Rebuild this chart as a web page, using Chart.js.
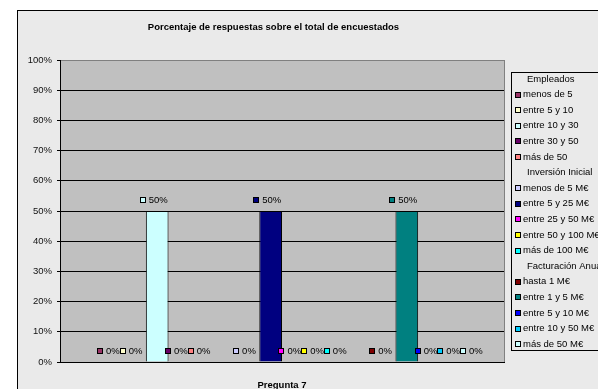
<!DOCTYPE html>
<html lang="es">
<head>
<meta charset="UTF-8">
<script src="https://cdn.jsdelivr.net/npm/chart.js@4.4.0/dist/chart.umd.min.js"></script>
<title>Pregunta 7</title>
<style>
  html, body { margin: 0; padding: 0; background: #fff; overflow: hidden; width: 598px; height: 389px; }
  #box { position: absolute; left: 17px; top: 10px; width: 600px; height: 400px; border: 1px solid #000; background: #eaeaea; }
</style>
</head>
<body>
<div id="box"><canvas id="chart" width="600" height="400"></canvas></div>
<script>
const categories = ['Pregunta 7'];
const seriesNames = [
  'Empleados', 'menos de 5', 'entre 5 y 10', 'entre 10 y 30', 'entre 30 y 50', 'más de 50',
  'Inversión Inicial', 'menos de 5 M€', 'entre 5 y 25 M€', 'entre 25 y 50 M€', 'entre 50 y 100 M€', 'más de 100 M€',
  'Facturación Anual', 'hasta 1 M€', 'entre 1 y 5 M€', 'entre 5 y 10 M€', 'entre 10 y 50 M€', 'más de 50 M€'
];
const seriesValues = [null, 0, 0, 50, 0, 0, null, 0, 50, 0, 0, 0, null, 0, 50, 0, 0, 0];
const seriesColors = [
  null, '#993366', '#ffffcc', '#ccffff', '#660066', '#ff8080',
  null, '#ccccff', '#000080', '#ff00ff', '#ffff00', '#00ffff',
  null, '#800000', '#008080', '#0000ff', '#00ccff', '#ccffff'
];
const yTicks = [0, 10, 20, 30, 40, 50, 60, 70, 80, 90, 100];

const FONT = "'Liberation Sans', Arial, sans-serif";

const datasets = seriesNames.map((name, i) => ({
  label: name,
  data: [seriesValues[i]],
  backgroundColor: seriesColors[i] || 'transparent',
  borderColor: '#000',
  borderWidth: seriesValues[i] ? 1 : 0,
  barPercentage: 1,
  categoryPercentage: 0.92
}));

// gray plot area and right border
const plotBg = {
  id: 'plotBg',
  beforeDraw(chart) {
    const a = chart.chartArea, c = chart.ctx;
    c.save();
    c.fillStyle = '#c0c0c0';
    c.fillRect(a.left, a.top, a.right - a.left, a.bottom - a.top);
    c.strokeStyle = '#808080';
    c.lineWidth = 1;
    c.beginPath();
    c.moveTo(Math.round(a.right) + 0.5, a.top);
    c.lineTo(Math.round(a.right) + 0.5, a.bottom);
    c.stroke();
    c.restore();
  }
};

// value labels with legend key
const valueLabels = {
  id: 'valueLabels',
  afterDatasetsDraw(chart) {
    const c = chart.ctx;
    c.save();
    c.font = '9.5px ' + FONT;
    c.textBaseline = 'middle';
    chart.data.datasets.forEach((ds, i) => {
      const v = ds.data[0];
      if (v === null) return;
      const bar = chart.getDatasetMeta(i).data[0];
      const txt = v + '%';
      const w = c.measureText(txt).width;
      const tx = bar.x + 1 - w / 2;
      const ty = bar.y - 11;
      c.fillStyle = '#000';
      c.textAlign = 'left';
      c.fillText(txt, tx, ty);
      const mx = Math.round(tx - 9);
      const my = Math.round(ty - 3);
      c.fillStyle = seriesColors[i];
      c.fillRect(mx, my, 6, 6);
      c.strokeStyle = '#000';
      c.lineWidth = 1;
      c.strokeRect(mx + 0.5, my + 0.5, 5, 5);
    });
    c.restore();
  }
};

// title and legend box
const frame = {
  id: 'frame',
  afterDraw(chart) {
    const c = chart.ctx;
    c.save();
    c.fillStyle = '#000';
    c.font = 'bold 9.5px ' + FONT;
    c.textAlign = 'center';
    c.textBaseline = 'middle';
    c.fillText('Porcentaje de respuestas sobre el total de encuestados', 255.5, 16);

    c.strokeStyle = '#000';
    c.lineWidth = 1;
    c.strokeRect(493.5, 61.5, 200, 278);
    c.font = '9.5px ' + FONT;
    c.textAlign = 'left';
    chart.data.datasets.forEach((ds, i) => {
      const y = 68 + i * 15.6;
      if (!seriesColors[i]) {
        c.fillStyle = '#000';
        c.fillText(ds.label, 509, y);
        return;
      }
      const my = Math.round(y - 3);
      c.fillStyle = seriesColors[i];
      c.fillRect(497, my, 6, 6);
      c.strokeRect(497.5, my + 0.5, 5, 5);
      c.fillStyle = '#000';
      c.fillText(ds.label, 505, y);
    });
    c.restore();
  }
};

new Chart(document.getElementById('chart'), {
  type: 'bar',
  data: { labels: categories, datasets: datasets },
  options: {
    responsive: false,
    animation: false,
    events: [],
    layout: { padding: { left: 0, top: 49, right: 114, bottom: 19 } },
    plugins: { legend: { display: false }, title: { display: false }, tooltip: { enabled: false } },
    scales: {
      x: {
        grid: { display: false },
        border: { color: '#000' },
        ticks: { color: '#000', font: { family: FONT, size: 9.5, weight: 'bold' }, padding: 10 },
        afterFit(s) { s.height = 30; }
      },
      y: {
        min: 0,
        max: 100,
        afterBuildTicks(s) { s.ticks = yTicks.map(v => ({ value: v })); },
        border: { color: '#000' },
        grid: {
          color: ctx => ctx.tick && ctx.tick.value === 100 ? '#808080' : '#000',
          tickColor: '#000',
          tickLength: 3
        },
        ticks: {
          color: '#111',
          font: { family: FONT, size: 9.5 },
          padding: 5,
          callback: v => v + '%'
        },
        afterFit(s) { s.width = 42; }
      }
    }
  },
  plugins: [plotBg, valueLabels, frame]
});
</script>
</body>
</html>
